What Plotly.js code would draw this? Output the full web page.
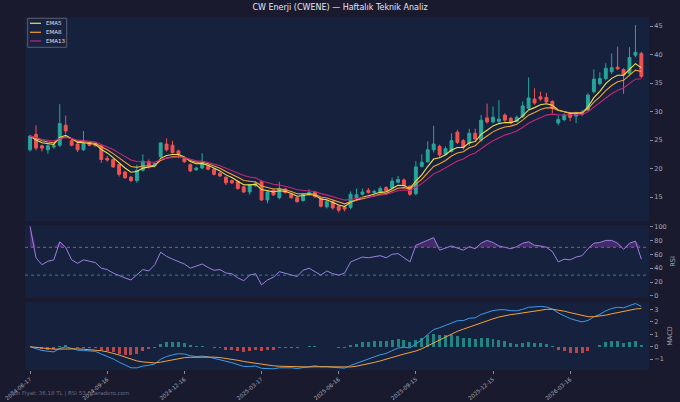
<!DOCTYPE html>
<html>
<head>
<meta charset="utf-8">
<script src="https://cdn.plot.ly/plotly-3.0.1.min.js"></script>
<style>
html,body{margin:0;padding:0;background:#1a1a2e;}
#chart{width:680px;height:402px;}
</style>
</head>
<body>
<div id="chart"></div>
<script>
// Weekly dates (Mondays)
const dates = [
"2024-06-17","2024-06-24","2024-07-01","2024-07-08","2024-07-15","2024-07-22","2024-07-29","2024-08-05","2024-08-12","2024-08-19",
"2024-08-26","2024-09-02","2024-09-09","2024-09-16","2024-09-23","2024-09-30","2024-10-07","2024-10-14","2024-10-21","2024-10-28",
"2024-11-04","2024-11-11","2024-11-18","2024-11-25","2024-12-02","2024-12-09","2024-12-16","2024-12-23","2024-12-30","2025-01-06",
"2025-01-13","2025-01-20","2025-01-27","2025-02-03","2025-02-10","2025-02-17","2025-02-24","2025-03-03","2025-03-10","2025-03-17",
"2025-03-24","2025-03-31","2025-04-07","2025-04-14","2025-04-21","2025-04-28","2025-05-05","2025-05-12","2025-05-19","2025-05-26",
"2025-06-02","2025-06-09","2025-06-16","2025-06-23","2025-06-30","2025-07-07","2025-07-14","2025-07-21","2025-07-28","2025-08-04",
"2025-08-11","2025-08-18","2025-08-25","2025-09-01","2025-09-08","2025-09-15","2025-09-22","2025-09-29","2025-10-06","2025-10-13",
"2025-10-20","2025-10-27","2025-11-03","2025-11-10","2025-11-17","2025-11-24","2025-12-01","2025-12-08","2025-12-15","2025-12-22",
"2025-12-29","2026-01-05","2026-01-12","2026-01-19","2026-01-26","2026-02-02","2026-02-09","2026-02-16","2026-02-23","2026-03-02",
"2026-03-09","2026-03-16","2026-03-23","2026-03-30","2026-04-06","2026-04-13","2026-04-20","2026-04-27","2026-05-04","2026-05-11",
"2026-05-18","2026-05-25","2026-06-01","2026-06-08"
];
const open = [
23.3,26.0,24.0,23.3,23.8,24.1,27.6,24.9,24.3,23.3,
24.3,24.4,24.0,21.8,21.6,20.7,19.4,18.5,17.9,19.7,
21.2,20.5,22.1,24.3,24.1,23.1,21.8,20.7,19.8,20.1,
20.4,19.9,19.2,18.5,17.9,17.7,16.8,15.9,17.0,17.7,
14.5,16.2,14.9,16.4,15.5,14.9,14.4,15.5,15.9,14.8,
13.3,14.2,13.4,13.3,13.2,14.9,15.5,16.2,15.8,15.8,
16.7,16.6,17.6,18.0,16.9,15.6,20.4,21.2,23.3,23.9,
22.5,23.0,26.4,24.9,24.4,26.2,25.0,28.9,28.2,28.3,
29.4,28.8,28.3,29.1,30.6,32.2,32.6,32.5,31.8,28.0,
28.6,29.6,29.2,29.5,30.3,33.5,34.9,35.8,37.0,37.8,
37.4,36.7,39.9,40.2
];
const high = [
25.9,27.6,24.2,24.3,24.4,31.3,29.3,25.2,24.5,26.6,
24.5,24.6,24.3,22.2,21.8,20.9,19.6,18.7,20.7,22.5,
21.6,21.1,24.6,25.3,24.9,23.3,22.0,20.9,20.3,22.7,
20.6,20.1,19.4,18.6,18.1,17.9,17.0,17.3,17.8,18.0,
16.1,16.4,17.7,16.6,15.7,15.1,15.7,16.4,16.1,15.0,
14.5,14.4,13.6,13.5,16.0,16.5,16.5,16.6,16.3,16.9,
16.9,18.4,18.7,18.3,17.1,21.3,22.5,24.8,27.5,24.2,
23.9,26.2,26.8,25.2,27.0,27.0,29.4,31.4,30.9,32.0,
29.7,29.1,29.3,31.8,36.0,34.1,33.5,33.3,32.0,29.3,
29.7,29.9,30.0,30.3,33.2,37.4,36.9,38.5,40.2,41.4,
37.6,41.3,45.2,40.5
];
const low = [
23.0,23.2,23.0,22.6,23.5,23.8,26.1,23.9,22.9,23.1,
23.9,23.9,21.0,21.2,20.1,18.6,18.2,17.6,17.5,19.5,
20.0,20.2,21.9,23.0,22.6,21.8,21.0,19.4,19.6,19.9,
19.7,18.8,18.5,17.1,17.3,16.3,15.7,15.4,16.8,14.3,
13.9,15.2,14.6,15.6,14.7,14.0,14.2,15.3,14.9,13.2,
13.0,12.8,12.3,12.5,12.9,14.6,15.3,15.6,15.6,15.6,
15.9,16.4,17.4,16.8,15.2,15.3,20.2,21.0,22.8,21.9,
22.3,22.8,24.3,23.3,24.0,24.9,24.7,27.9,27.9,27.9,
28.2,27.8,28.1,28.9,30.3,31.2,31.9,31.5,29.7,27.6,
28.3,28.3,28.0,29.2,30.1,33.2,34.6,35.5,36.6,37.3,
33.1,36.4,39.5,35.9
];
const close = [
25.7,23.6,23.6,24.0,24.0,27.9,26.6,24.1,23.3,24.4,
24.1,24.0,21.6,21.5,20.3,19.0,18.4,17.9,19.7,21.3,
20.5,20.9,24.5,23.3,22.8,22.5,21.2,19.6,20.1,21.0,
19.9,19.0,18.7,17.5,17.5,16.5,15.9,17.1,17.4,14.5,
15.9,15.4,16.5,15.8,14.9,14.2,15.5,15.8,15.05,13.4,
14.2,13.1,12.7,12.9,15.5,15.4,15.9,15.8,16.0,16.5,
16.1,17.8,18.1,17.0,15.5,20.3,21.1,23.3,24.3,22.4,
23.5,24.9,24.6,23.7,26.2,25.2,28.5,28.2,29.0,28.7,
28.5,28.0,29.0,31.0,32.4,31.5,32.2,31.7,30.6,28.6,
29.4,29.0,29.8,29.9,32.9,35.7,35.8,37.6,37.7,37.5,
36.4,39.5,40.4,36.18
];
// RSI values
const rsi = [
100,55,45,50,52,78,70,52,47,52,
50,48,40,38,33,29,26,23,30,38,
36,45,63,57,53,50,46,40,43,46,
41,37,38,33,32,26,22,30,32,16,
23,27,35,33,30,28,37,40,35,30,
36,32,30,33,49,52,56,55,56,58,
55,60,61,55,49,73,77,80,84,66,
69,72,69,66,71,68,76,80,77,72,
70,68,71,76,78,73,72,70,64,49,
53,52,56,58,68,76,77,80,80,76,
67,76,79,53
];
const tickDates = ["2024-06-17","2024-09-16","2024-12-16","2025-03-17","2025-06-16","2025-09-15","2025-12-15","2026-03-16"];
const priceTicks = [15,20,25,30,35,40,45];
const rsiTicks = [0,20,40,60,80,100];
const macdTicks = [-1,0,1,2,3];
const emaNames = ["EMA5","EMA8","EMA13"];
const emaColors = ["#f2e24a","#f5a13a","#c2287a"];

// ---- moving-average indicators computed from the closes ----
function ema(arr, n){
  const a = 2/(n+1); const out = [];
  arr.forEach((v,i)=>{ out.push(i===0 ? v : a*v + (1-a)*out[i-1]); });
  return out;
}
const ema5 = ema(close,5), ema8 = ema(close,8), ema13 = ema(close,13);
const ema12 = ema(close,12), ema26 = ema(close,26);
const macd = ema12.map((v,i)=>v-ema26[i]);
const signal = ema(macd,9);
const hist = macd.map((v,i)=>v-signal[i]);
const rsiTop = rsi.map(v=> Math.max(v,70));

const C_UP = '#26a69a', C_DN = '#ef5350';

const traces = [
  {type:'candlestick', x:dates, open:open, high:high, low:low, close:close, xaxis:'x', yaxis:'y',
   increasing:{line:{color:C_UP,width:1}, fillcolor:C_UP},
   decreasing:{line:{color:C_DN,width:1}, fillcolor:C_DN},
   whiskerwidth:0, showlegend:false, hoverinfo:'skip'},
  {type:'scatter', mode:'lines', x:dates, y:ema5, name:emaNames[0], line:{color:emaColors[0], width:1.1}, xaxis:'x', yaxis:'y', showlegend:false},
  {type:'scatter', mode:'lines', x:dates, y:ema8, name:emaNames[1], line:{color:emaColors[1], width:1.1}, xaxis:'x', yaxis:'y', showlegend:false},
  {type:'scatter', mode:'lines', x:dates, y:ema13, name:emaNames[2], line:{color:emaColors[2], width:1.1}, xaxis:'x', yaxis:'y', showlegend:false},
  // RSI
  {type:'scatter', mode:'lines', x:dates, y:dates.map(()=>70), line:{width:0}, showlegend:false, xaxis:'x', yaxis:'y2', hoverinfo:'skip'},
  {type:'scatter', mode:'lines', x:dates, y:rsiTop, line:{width:0}, fill:'tonexty', fillcolor:'rgba(150,70,190,0.35)', showlegend:false, xaxis:'x', yaxis:'y2', hoverinfo:'skip'},
  {type:'scatter', mode:'lines', x:dates, y:rsi, line:{color:'#9b80e0', width:1}, showlegend:false, xaxis:'x', yaxis:'y2'},
  // MACD
  {type:'bar', x:dates, y:hist, marker:{color:hist.map(v=>v>=0?'rgba(38,166,154,0.75)':'rgba(239,83,80,0.75)')}, width:3.5*86400000, showlegend:false, xaxis:'x', yaxis:'y3'},
  {type:'scatter', mode:'lines', x:dates, y:macd, line:{color:'#3d9be9', width:1}, showlegend:false, xaxis:'x', yaxis:'y3'},
  {type:'scatter', mode:'lines', x:dates, y:signal, line:{color:'#f5a13a', width:1}, showlegend:false, xaxis:'x', yaxis:'y3'}
];

const tickFont = {size:6.5, color:'#a9a9b5'};
const yCommon = {side:'right', anchor:'x', showgrid:false, zeroline:false, showline:false,
  ticks:'outside', ticklen:3, tickcolor:'#8a8a99', tickfont:tickFont, fixedrange:true};

// compact legend drawn in paper coordinates
const legRowsY = [0.9822, 0.9567, 0.932];
const legendShapes = [
  {type:'rect', xref:'paper', yref:'paper', x0:0.0043, x1:0.0668, y0:0.9142, y1:0.9963,
   line:{color:'#6a6f85', width:0.8}, fillcolor:'rgba(24,34,62,0.9)'}
];
const legendAnn = [];
emaNames.forEach((n,k)=>{
  legendShapes.push({type:'line', xref:'paper', yref:'paper', x0:0.008, x1:0.0256, y0:legRowsY[k], y1:legRowsY[k],
    line:{color:emaColors[k], width:1.2}});
  legendAnn.push({text:n, xref:'paper', yref:'paper', x:0.031, y:legRowsY[k], xanchor:'left', yanchor:'middle',
    showarrow:false, font:{size:5.5, color:'#e0e0e8'}});
});

const layout = {
  width:680, height:402,
  paper_bgcolor:'#1a1a2e', plot_bgcolor:'#16213e',
  font:{family:'DejaVu Sans', size:7, color:'#c8c8d0'},
  margin:{l:25, r:31, t:17, b:32},
  title:{text:'CW Enerji (CWENE) — Haftalık Teknik Analiz', x:0.5, xref:'container', y:0.981, yref:'container', yanchor:'middle',
         font:{size:8, color:'#e6e6ee', family:'DejaVu Sans'}},
  showlegend:false,
  bargap:0,
  xaxis:{type:'date', anchor:'y3', range:['2024-06-11','2026-06-17'], rangeslider:{visible:false},
         tickvals:tickDates, ticktext:tickDates, tickangle:-40, ticks:'outside', ticklen:3, tickcolor:'#8a8a99',
         tickfont:{size:5.5, color:'#a9a9b5'}, showgrid:false, zeroline:false, showline:false, fixedrange:true},
  yaxis:Object.assign({}, yCommon, {domain:[0.422,1], range:[10.8,46.6], tickvals:priceTicks}),
  yaxis2:Object.assign({}, yCommon, {domain:[0.204,0.411], range:[-2.9,102.3], tickvals:rsiTicks,
         title:{text:'RSI', font:{size:6.5, color:'#a9a9b5'}, standoff:4}}),
  yaxis3:Object.assign({}, yCommon, {domain:[0,0.1926], range:[-1.87,3.6], tickvals:macdTicks,
         title:{text:'MACD', font:{size:6.5, color:'#a9a9b5'}, standoff:4}}),
  shapes:[
    {type:'line', xref:'paper', x0:0, x1:1, yref:'y2', y0:70, y1:70, line:{color:'#ef5350', width:0.8, dash:'dot'}},
    {type:'line', xref:'paper', x0:0, x1:1, yref:'y2', y0:30, y1:30, line:{color:'#26a69a', width:0.8, dash:'dot'}}
  ].concat(legendShapes),
  annotations:[
    {text:'Son Fiyat: 36.18 TL | RSI 53 | paradero.com', xref:'paper', yref:'paper', x:-0.027, y:-0.066,
     xanchor:'left', yanchor:'middle', showarrow:false, font:{size:5.5, color:'#6c6c80'}}
  ].concat(legendAnn)
};

Plotly.newPlot('chart', traces, layout, {displayModeBar:false, staticPlot:true});
</script>
</body>
</html>
